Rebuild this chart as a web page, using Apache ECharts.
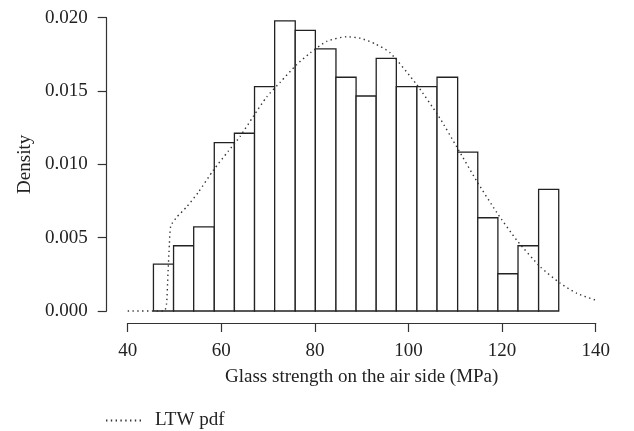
<!DOCTYPE html>
<html>
<head>
<meta charset="utf-8">
<script src="https://cdn.jsdelivr.net/npm/echarts@6/dist/echarts.min.js"></script>
<style>
html,body{margin:0;padding:0;background:#fff;}
#chart{width:634px;height:431px;}
</style>
</head>
<body>
<div id="chart"></div>
<script>
// Histogram bin edges (MPa) and densities
var binEdges = [45.5, 49.8, 54.1, 58.5, 62.8, 67.1, 71.4, 75.8, 80.1, 84.5, 88.8, 93.1, 97.4, 101.8, 106.1, 110.5, 114.8, 119.1, 123.4, 127.8, 132.1];
var densities = [0.0032, 0.00445, 0.00573, 0.01148, 0.01212, 0.0153, 0.01978, 0.01914, 0.01787, 0.01594, 0.01466, 0.01723, 0.0153, 0.0153, 0.01594, 0.01084, 0.00636, 0.00254, 0.00445, 0.0083];

// LTW pdf curve
var curveX = [40, 47.8, 48.3, 48.6, 48.9, 49.2, 50.5, 52.6, 55.1, 58.3, 61.5, 64.0, 66.9, 69.7, 72.6, 76.1, 79.0, 82.6, 86.8, 89.7, 93.0, 96.1, 101.6, 106.4, 110.3, 114.5, 118.9, 123.2, 128.2, 132.4, 136.0, 141.3];
var curveY = [0, 0, 0.0005, 0.0025, 0.0045, 0.0058, 0.0064, 0.0071, 0.0081, 0.0096, 0.0109, 0.0119, 0.0133, 0.0146, 0.0156, 0.0168, 0.0176, 0.0184, 0.0187, 0.0186, 0.0182, 0.0176, 0.0155, 0.0133, 0.0112, 0.0089, 0.0067, 0.0048, 0.0030, 0.0019, 0.0012, 0.0006];

var xTicks = {min: 40, max: 140, interval: 20};
var yTicks = {min: 0, max: 0.02, interval: 0.005};

var FONT = 'Liberation Serif';
var FS = 19;
var barData = densities.map(function (d, i) { return [binEdges[i], binEdges[i + 1], d]; });
var curveData = curveX.map(function (x, i) { return [x, curveY[i]]; });

var chart = echarts.init(document.getElementById('chart'), null, {renderer: 'canvas'});
chart.setOption({
  animation: false,
  backgroundColor: '#fff',
  grid: {left: 127.7, right: 38.3, top: 17.7, bottom: 120, containLabel: false},
  xAxis: {
    type: 'value', min: xTicks.min, max: xTicks.max, interval: xTicks.interval,
    offset: 12,
    axisLine: {show: true, onZero: false, lineStyle: {color: '#333', width: 1.2}},
    axisTick: {show: true, length: 9, inside: false, lineStyle: {color: '#333', width: 1.2}},
    axisLabel: {color: '#222', fontFamily: FONT, fontSize: FS, margin: 19},
    splitLine: {show: false},
    name: 'Glass strength on the air side (MPa)',
    nameLocation: 'middle', nameGap: 45,
    nameTextStyle: {color: '#222', fontFamily: FONT, fontSize: FS}
  },
  yAxis: {
    type: 'value', min: yTicks.min, max: yTicks.max, interval: yTicks.interval,
    offset: 21,
    axisLine: {show: true, onZero: false, lineStyle: {color: '#333', width: 1.2}},
    axisTick: {show: true, length: 9, inside: false, lineStyle: {color: '#333', width: 1.2}},
    axisLabel: {color: '#222', fontFamily: FONT, fontSize: FS, margin: 19,
      formatter: function (v) { return v.toFixed(3); }},
    splitLine: {show: false},
    name: 'Density', nameLocation: 'middle', nameGap: 72,
    nameTextStyle: {color: '#222', fontFamily: FONT, fontSize: FS}
  },
  legend: {
    left: 100, top: 406, itemWidth: 38, itemHeight: 14, itemGap: 12,
    itemStyle: {opacity: 0},
    textStyle: {color: '#222', fontFamily: FONT, fontSize: FS, padding: [0, 0, 0, 6]},
    data: ['LTW pdf']
  },
  series: [
    {
      type: 'custom', name: 'hist', clip: false,
      renderItem: function (params, api) {
        var p0 = api.coord([api.value(0), api.value(2)]);
        var p1 = api.coord([api.value(1), 0]);
        return {
          type: 'rect',
          shape: {x: p0[0], y: p0[1], width: p1[0] - p0[0], height: p1[1] - p0[1]},
          style: {fill: '#fff', stroke: '#222', lineWidth: 1.3}
        };
      },
      encode: {x: [0, 1], y: 2},
      data: barData,
      z: 2
    },
    {
      type: 'line', name: 'LTW pdf', data: curveData, clip: false,
      symbol: 'none', smooth: 0.2,
      lineStyle: {color: '#333', width: 1.4, type: [1.4, 3.4]},
      itemStyle: {color: '#333'},
      z: 3
    }
  ]
});
</script>
</body>
</html>
